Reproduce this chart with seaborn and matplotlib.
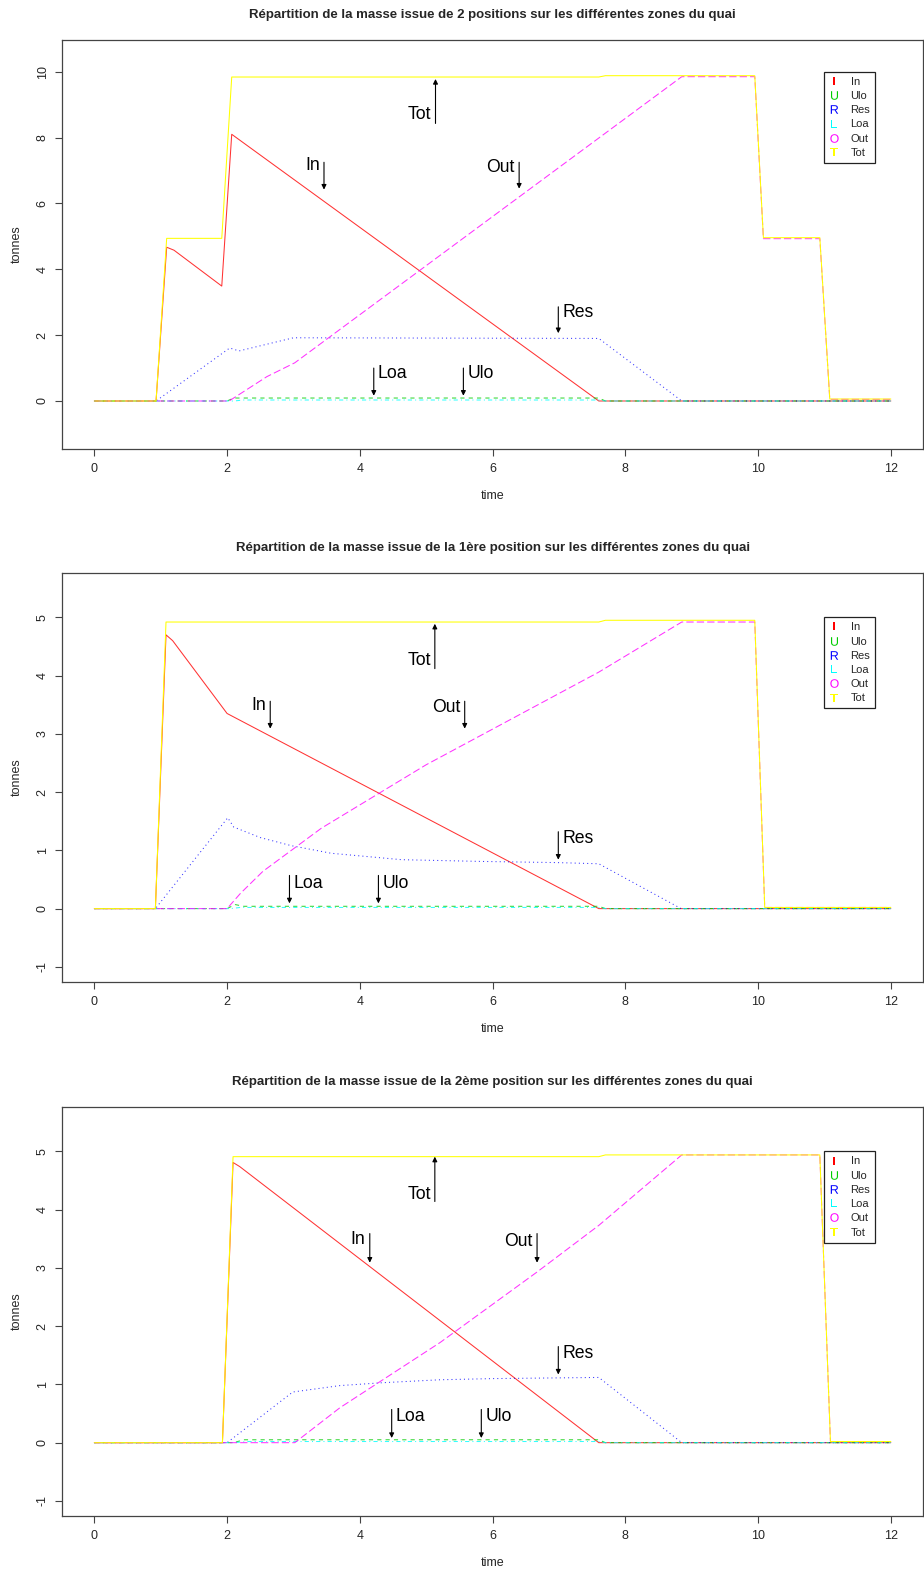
import matplotlib
matplotlib.use("Agg")
import pandas as pd
import matplotlib.pyplot as plt
from matplotlib.lines import Line2D
import seaborn as sns

# zones of the quay (legend order) and their R-like colours / line types
zones = ["In", "Ulo", "Res", "Loa", "Out", "Tot"]
letters = ["I", "U", "R", "L", "O", "T"]
colors = ["#FF0000", "#00CD00", "#0000FF", "#00FFFF", "#FF00FF", "#FFFF00"]
dashes = ["-", (0, (4, 4)), (0, (1, 3)), (0, (1, 3, 4, 3)), (0, (7, 3)), "-"]

titles = [
    "Répartition de la masse issue de 2 positions sur les différentes zones du quai",
    "Répartition de la masse issue de la 1ère position sur les différentes zones du quai",
    "Répartition de la masse issue de la 2ème position sur les différentes zones du quai",
]

# ---- panel 1 : both positions --------------------------------------------
p1_in_t = [0, 0.93, 1.09, 1.2, 1.92, 2.07, 7.6, 12]
p1_in_v = [0, 0, 4.67, 4.58, 3.49, 8.1, 0, 0]
p1_ulo_t = [0, 2.0, 2.1, 7.6, 7.7, 12]
p1_ulo_v = [0, 0, 0.09, 0.09, 0, 0]
p1_res_t = [0, 0.93, 2.04, 2.18, 3.0, 7.6, 8.85, 12]
p1_res_v = [0, 0, 1.61, 1.52, 1.92, 1.9, 0, 0]
p1_loa_t = [0, 2.1, 2.25, 7.6, 7.7, 12]
p1_loa_v = [0, 0, 0.03, 0.03, 0, 0]
p1_out_t = [0, 2.03, 2.6, 3.02, 8.85, 9.95, 10.08, 10.93, 11.08, 12]
p1_out_v = [0, 0, 0.74, 1.16, 9.85, 9.85, 4.93, 4.93, 0.05, 0.05]
p1_tot_t = [0, 0.93, 1.09, 1.92, 2.07, 7.6, 7.7, 9.95, 10.08, 10.93, 11.08, 12]
p1_tot_v = [0, 0, 4.94, 4.94, 9.84, 9.84, 9.88, 9.88, 4.96, 4.96, 0.06, 0.06]

# ---- panel 2 : 1st position ----------------------------------------------
p2_in_t = [0, 0.92, 1.08, 1.18, 2.0, 7.6, 12]
p2_in_v = [0, 0, 4.7, 4.6, 3.35, 0, 0]
p2_ulo_t = [0, 2.0, 2.12, 2.25, 7.6, 7.7, 12]
p2_ulo_v = [0, 0, 0.07, 0.04, 0.04, 0, 0]
p2_res_t = [0, 0.92, 2.01, 2.1, 2.5, 2.97, 3.57, 4.63, 5.84, 6.98, 7.6, 8.84, 12]
p2_res_v = [0, 0, 1.56, 1.4, 1.22, 1.08, 0.95, 0.84, 0.81, 0.79, 0.77, 0, 0]
p2_loa_t = [0, 2.05, 2.2, 7.6, 7.7, 12]
p2_loa_v = [0, 0, 0.02, 0.02, 0, 0]
p2_out_t = [0, 2.0, 2.2, 2.54, 3.42, 5.0, 7.6, 8.85, 9.95, 10.1, 12]
p2_out_v = [0, 0, 0.26, 0.64, 1.38, 2.47, 4.06, 4.92, 4.92, 0.02, 0.02]
p2_tot_t = [0, 0.92, 1.08, 7.6, 7.7, 9.95, 10.1, 12]
p2_tot_v = [0, 0, 4.92, 4.92, 4.95, 4.95, 0.02, 0.02]

# ---- panel 3 : 2nd position ----------------------------------------------
p3_in_t = [0, 1.93, 2.09, 2.19, 7.6, 12]
p3_in_v = [0, 0, 4.81, 4.74, 0, 0]
p3_ulo_t = [0, 2.1, 2.25, 7.6, 7.7, 12]
p3_ulo_v = [0, 0, 0.05, 0.05, 0, 0]
p3_res_t = [0, 2.0, 2.99, 3.7, 4.35, 5.21, 6.0, 7.6, 8.85, 12]
p3_res_v = [0, 0, 0.87, 0.98, 1.03, 1.08, 1.1, 1.12, 0, 0]
p3_loa_t = [0, 2.1, 2.3, 7.6, 7.7, 12]
p3_loa_v = [0, 0, 0.02, 0.02, 0, 0]
p3_out_t = [0, 3.02, 3.7, 5.21, 6.67, 7.6, 8.85, 10.93, 11.09, 12]
p3_out_v = [0, 0, 0.6, 1.72, 2.93, 3.73, 4.94, 4.94, 0.02, 0.02]
p3_tot_t = [0, 1.93, 2.09, 7.6, 7.7, 10.93, 11.09, 12]
p3_tot_v = [0, 0, 4.91, 4.91, 4.94, 4.94, 0.02, 0.02]

# arrow labels: time, arrow start, arrow end, text height (tonnes)
p1_note_t = [3.46, 5.56, 6.99, 4.21, 6.40, 5.14]
p1_note_y0 = [7.25, 1.0, 2.86, 1.0, 7.25, 8.43]
p1_note_y1 = [6.42, 0.16, 2.06, 0.16, 6.45, 9.78]
p1_note_yt = [7.15, 0.82, 2.68, 0.82, 7.08, 8.70]

p2_note_t = [2.65, 4.28, 6.99, 2.94, 5.58, 5.13]
p2_note_y0 = [3.56, 0.57, 1.32, 0.57, 3.56, 4.12]
p2_note_y1 = [3.09, 0.09, 0.84, 0.09, 3.09, 4.89]
p2_note_yt = [3.49, 0.43, 1.20, 0.43, 3.46, 4.26]

p3_note_t = [4.15, 5.83, 6.99, 4.48, 6.67, 5.13]
p3_note_y0 = [3.59, 0.57, 1.65, 0.57, 3.59, 4.14]
p3_note_y1 = [3.09, 0.08, 1.17, 0.08, 3.09, 4.91]
p3_note_yt = [3.49, 0.45, 1.53, 0.45, 3.46, 4.26]
note_side = ["left", "right", "right", "right", "left", "left"]

y_limits = [(-1, 10.5), (-1, 5.5), (-1, 5.5)]
y_ticks = [[0, 2, 4, 6, 8, 10], [-1, 0, 1, 2, 3, 4, 5], [-1, 0, 1, 2, 3, 4, 5]]
legend_top = [10, 5, 5]


def to_long(parts):
    frames = []
    for zone, (t, v) in zip(zones, parts):
        frames.append(pd.DataFrame({"zone": zone, "time": t, "tonnes": v}))
    return pd.concat(frames, ignore_index=True)


panels = [
    to_long([(p1_in_t, p1_in_v), (p1_ulo_t, p1_ulo_v), (p1_res_t, p1_res_v),
             (p1_loa_t, p1_loa_v), (p1_out_t, p1_out_v), (p1_tot_t, p1_tot_v)]),
    to_long([(p2_in_t, p2_in_v), (p2_ulo_t, p2_ulo_v), (p2_res_t, p2_res_v),
             (p2_loa_t, p2_loa_v), (p2_out_t, p2_out_v), (p2_tot_t, p2_tot_v)]),
    to_long([(p3_in_t, p3_in_v), (p3_ulo_t, p3_ulo_v), (p3_res_t, p3_res_v),
             (p3_loa_t, p3_loa_v), (p3_out_t, p3_out_v), (p3_tot_t, p3_tot_v)]),
]
notes = [
    (p1_note_t, p1_note_y0, p1_note_y1, p1_note_yt),
    (p2_note_t, p2_note_y0, p2_note_y1, p2_note_yt),
    (p3_note_t, p3_note_y0, p3_note_y1, p3_note_yt),
]

sns.set_theme(style="white")
plt.rcParams["font.family"] = ["Liberation Sans", "DejaVu Sans"]
plt.rcParams["mathtext.fontset"] = "custom"
plt.rcParams["mathtext.rm"] = "Liberation Sans"
plt.rcParams["axes.unicode_minus"] = False

fig = plt.figure(figsize=(9.24, 15.74), dpi=100)
bottoms = [0.7147, 0.3761, 0.0368]

for i, df in enumerate(panels):
    ax = fig.add_axes([0.0676, bottoms[i], 0.931, 0.2598])

    for zone, col, ls in zip(zones, colors, dashes):
        # Tot is drawn last and opaque, like matplot() in R
        sns.lineplot(data=df[df["zone"] == zone], x="time", y="tonnes", ax=ax,
                     color=col, linestyle=ls, lw=0.75,
                     alpha=1.0 if zone == "Tot" else 0.8,
                     estimator=None, sort=False)

    # arrows with their labels
    nt, ny0, ny1, nyt = notes[i]
    for lab, t, y0, y1, yt, side in zip(zones, nt, ny0, ny1, nyt, note_side):
        ax.annotate("", xy=(t, y1), xytext=(t, y0),
                    arrowprops=dict(arrowstyle="-|>", color="black", lw=0.8,
                                    mutation_scale=7, shrinkA=0, shrinkB=0))
        dx = -3 if side == "left" else 3
        ax.annotate(lab, xy=(t, yt), xytext=(dx, 0), textcoords="offset points",
                    ha="right" if side == "left" else "left", va="center",
                    fontsize=12.7, color="black")

    # legend with coloured letters as symbols
    handles = [Line2D([0], [0], marker=r"$\mathrm{%s}$" % l, color=c,
                      markeredgewidth=0, linestyle="None", markersize=6.2)
               for l, c in zip(letters, colors)]
    leg = ax.legend(handles, zones, loc="upper left",
                    bbox_to_anchor=(11, legend_top[i]), bbox_transform=ax.transData,
                    borderaxespad=0, fancybox=False, framealpha=1,
                    edgecolor="#222222", fontsize=8.0, handlelength=0.8,
                    handletextpad=1.1, labelspacing=0.38, borderpad=0.45)
    leg.get_frame().set_linewidth(0.9)

    lo, hi = y_limits[i]
    r = hi - lo
    ax.set_xlim(-0.48, 12.48)
    ax.set_ylim(lo - 0.04 * r, hi + 0.04 * r)
    ax.set_xticks([0, 2, 4, 6, 8, 10, 12])
    ax.set_yticks(y_ticks[i])
    ax.tick_params(axis="both", which="major", length=5, width=0.8,
                   color="#444444", labelsize=9, pad=5, direction="out",
                   left=True, bottom=True)
    ax.tick_params(axis="y", labelrotation=90)
    for lab in ax.get_yticklabels():
        lab.set_va("center")
    for sp in ax.spines.values():
        sp.set_color("#444444")
        sp.set_linewidth(0.9)

    ax.set_xlabel("time", fontsize=9, labelpad=11)
    ax.set_ylabel("tonnes", fontsize=9, labelpad=10)
    ax.set_title(titles[i], fontsize=9.5, fontweight="bold", pad=16)

fig.savefig("out.png", dpi=100)
